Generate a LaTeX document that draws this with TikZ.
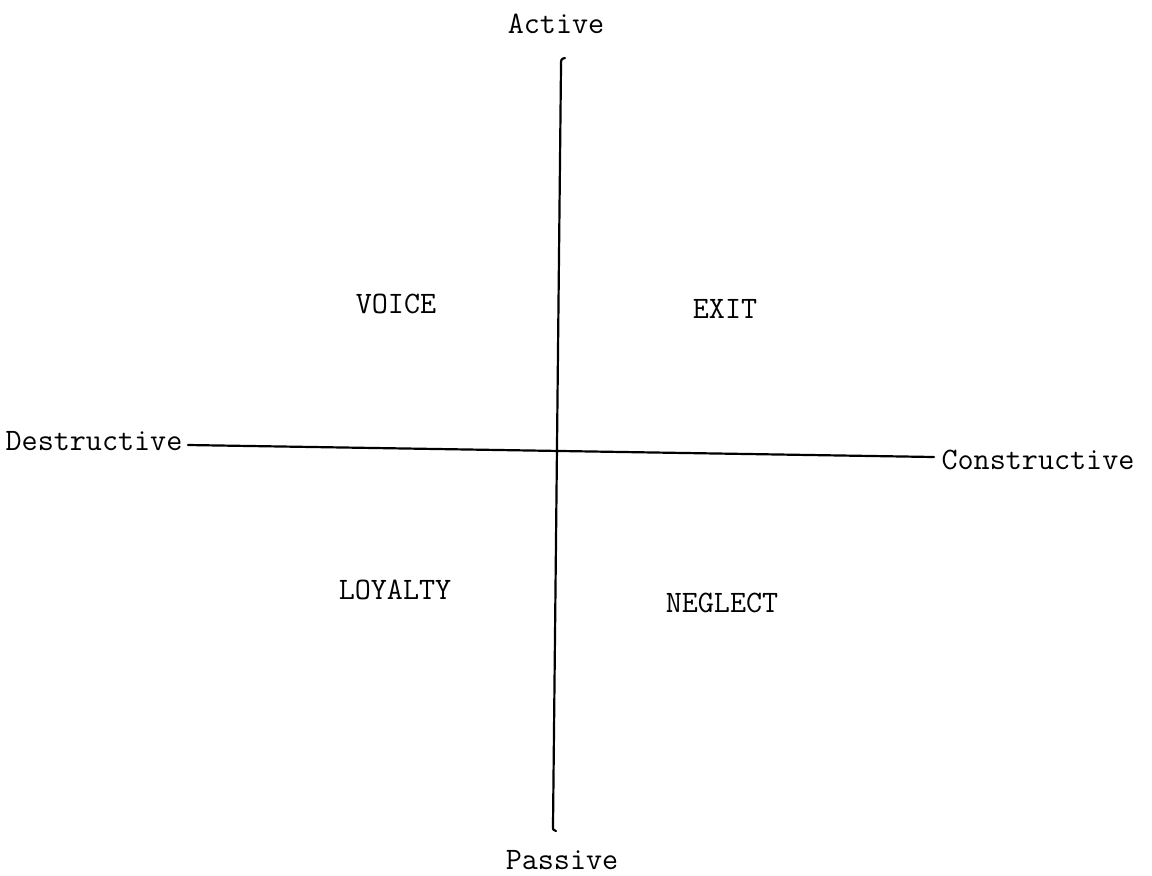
\documentclass[tikz,border=0pt]{standalone}
\begin{document}
\begin{tikzpicture}[x=0.5pt,y=-0.5pt,
  lbl/.style={font=\fontsize{15.6}{18}\selectfont\ttfamily, inner sep=0pt, anchor=center},
  axis/.style={line width=1.1pt, line cap=round, line join=round}]
\useasboundingbox (0,0) rectangle (1152,875);
\node[lbl] (active) at (556,24) {Active};
\node[lbl] (passive) at (562,860) {Passive};
\node[lbl] (destr) at (94,441) {Destructive};
\node[lbl] (constr) at (1038,460) {Constructive};
\node[lbl] (voice) at (396,304) {VOICE};
\node[lbl] (exit) at (725,309) {EXIT};
\node[lbl] (loyalty) at (395,590) {LOYALTY};
\node[lbl] (neglect) at (722,603) {NEGLECT};
\coordinate (vtop) at (565,58);
\coordinate (vbot) at (556,831);
\coordinate (hleft) at (188,445);
\coordinate (hright) at (934,457);
\draw[axis] (vtop) .. controls (561,59) .. (561,66) -- (553,826) .. controls (553,830) .. (vbot);
\draw[axis] (hleft) -- (hright);
\end{tikzpicture}
\end{document}
